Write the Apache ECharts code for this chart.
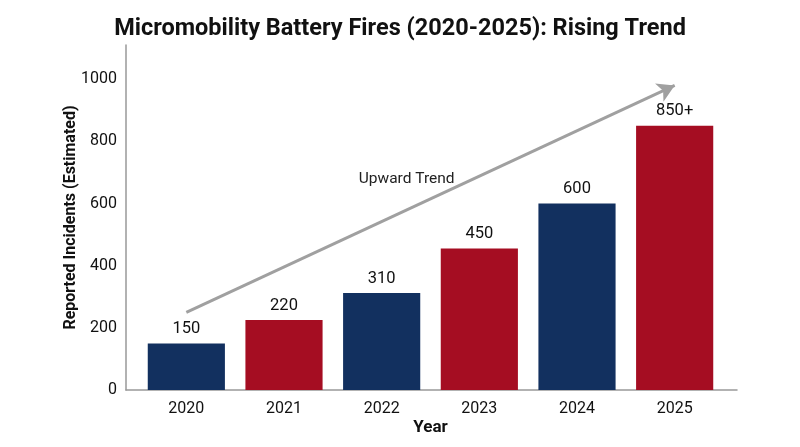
<!DOCTYPE html>
<html>
<head>
<meta charset="utf-8">
<script src="https://cdn.jsdelivr.net/npm/echarts@6/dist/echarts.min.js"></script>
<style>
  html, body { margin: 0; padding: 0; background: #fff; }
  #chart { width: 800px; height: 447px; }
</style>
</head>
<body>
<div id="chart"></div>
<script>
    // data
    var years = ['2020', '2021', '2022', '2023', '2024', '2025'];
    var incidents = [150, 225, 312, 455, 600, 850];
    var barLabels = ['150', '220', '310', '450', '600', '850+'];
    var barColors = ['#12305f', '#a50d22', '#12305f', '#a50d22', '#12305f', '#a50d22'];
    var yTicks = [0, 200, 400, 600, 800, 1000];
    // trend arrow: start / end in data space
    var trendFrom = ['2020', 250];
    var trendTo = ['2025', 980];
    var trendText = 'Upward Trend';
    var trendTextAt = ['2022', 680];

    var yMax = 1110;

    var barData = [];
    for (var i = 0; i < years.length; i++) {
        barData.push({
            value: incidents[i],
            itemStyle: { color: barColors[i] },
            label: { formatter: barLabels[i] }
        });
    }

    var axisColor = '#999';
    var txt = '#111';

    var option = {
        backgroundColor: '#fff',
        textStyle: { fontFamily: 'Roboto' },
        title: {
            text: 'Micromobility Battery Fires (2020-2025): Rising Trend',
            left: 'center',
            top: 12,
            textStyle: { fontSize: 23.5, fontWeight: 'bold', color: txt, fontFamily: 'Roboto' }
        },
        // grid 0: bars (inner band area), grid 1: the visible axis frame
        grid: [
            { left: 137.5, right: 76.5, top: 45, bottom: 57 },
            { left: 126, right: 63, top: 45, bottom: 57 }
        ],
        xAxis: [{
            type: 'category',
            gridIndex: 0,
            data: years,
            name: 'Year',
            nameLocation: 'middle',
            nameGap: 29,
            nameMoveOverlap: false,
            nameTextStyle: { fontSize: 17, fontWeight: 'bold', color: txt },
            axisLine: { show: false },
            axisTick: { show: false },
            axisLabel: { fontSize: 16, color: txt, margin: 11 }
        }, {
            type: 'value',
            gridIndex: 1,
            min: 0,
            max: 1,
            axisLine: { show: true, lineStyle: { color: axisColor, width: 1.5 } },
            axisTick: { show: false },
            axisLabel: { show: false },
            splitLine: { show: false }
        }],
        yAxis: [{
            type: 'value',
            gridIndex: 0,
            min: 0,
            max: yMax,
            show: false,
            splitLine: { show: false }
        }, {
            type: 'value',
            gridIndex: 1,
            min: 0,
            max: yMax,
            interval: 200,
            name: 'Reported Incidents (Estimated)',
            nameLocation: 'middle',
            nameGap: 47,
            nameMoveOverlap: false,
            nameTextStyle: { fontSize: 16, fontWeight: 'bold', color: txt },
            axisLine: { show: true, lineStyle: { color: axisColor, width: 1.5 } },
            axisTick: { show: false },
            splitLine: { show: false },
            axisLabel: {
                fontSize: 16, color: txt, margin: 9, showMaxLabel: false,
                formatter: function (v) { return yTicks.indexOf(v) >= 0 ? String(v) : ''; }
            }
        }],
        series: [{
            type: 'bar',
            xAxisIndex: 0,
            yAxisIndex: 0,
            data: barData,
            barWidth: '79%',
            label: { show: true, position: 'top', fontSize: 16.5, color: txt, distance: 6 },
            markLine: {
                silent: true,
                symbol: ['none', 'arrow'],
                symbolSize: [15, 17],
                lineStyle: { color: '#a0a0a0', width: 3, type: 'solid' },
                label: { show: false },
                data: [[{ coord: trendFrom }, { coord: trendTo }]]
            },
            markPoint: {
                silent: true,
                symbol: 'circle',
                symbolSize: 0,
                label: { show: true, formatter: trendText, fontSize: 15.5, color: '#222', offset: [25, 0] },
                data: [{ coord: trendTextAt }]
            }
        }]
    };

    var myChart = echarts.init(document.getElementById('chart'));
    myChart.setOption(option);
</script>
</body>
</html>
